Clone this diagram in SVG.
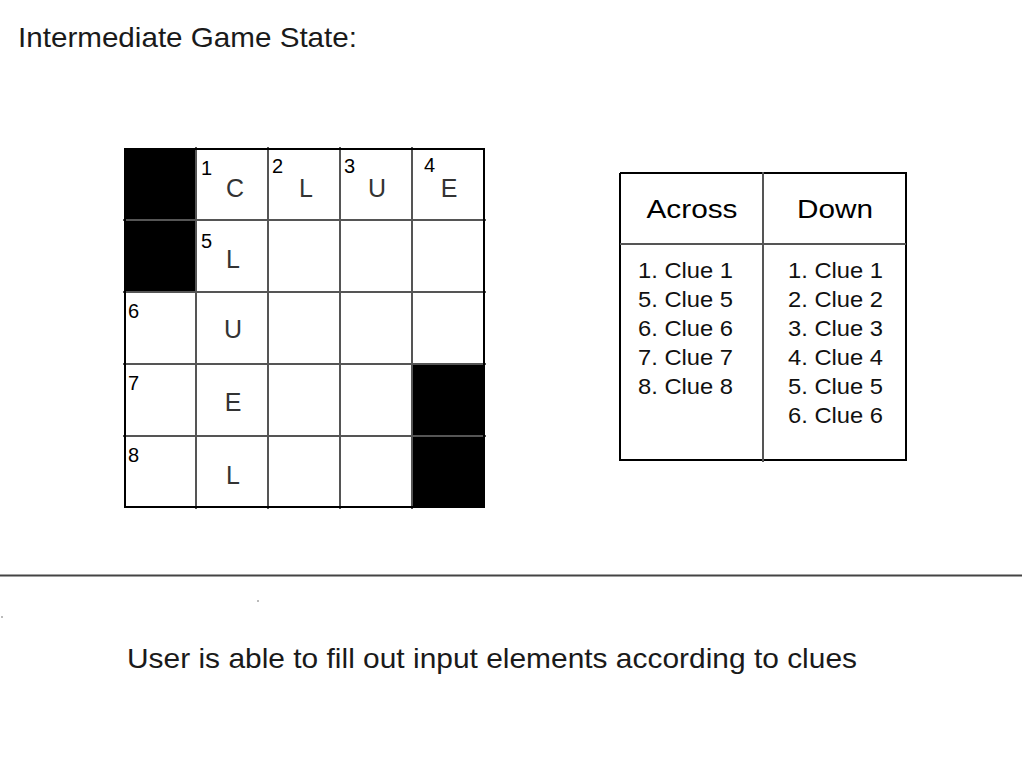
<svg xmlns="http://www.w3.org/2000/svg" width="1024" height="768" viewBox="0 0 1024 768">
<style>
text{font-family:"Liberation Sans",Arial,sans-serif;fill:#1a1a1a}
.num{font-size:20px;fill:#000}
.let{font-size:25px;fill:#333;text-anchor:middle}
.clue{font-size:22px;fill:#111}
.hdr{font-size:25px;fill:#000;text-anchor:middle}
.in{stroke:#555;stroke-width:2;fill:none}
.out{stroke:#000;stroke-width:2;fill:none}
.blk{fill:#000}
</style>
<rect width="1024" height="768" fill="#fff"/>
<text x="18" y="47" font-size="28" textLength="339" lengthAdjust="spacingAndGlyphs">Intermediate Game State:</text>

<g id="grid">
<rect class="blk" x="125" y="149" width="71" height="143"/>
<rect class="blk" x="412" y="364" width="72" height="143"/>
<path class="in" d="M196 147V509M268 147V509M340 147V509M412 147V509M123 220H486M123 292H486M123 364H486M123 436H486"/>
<rect class="out" x="125" y="149" width="359" height="358"/>
</g>

<g id="grid-text">
<text class="num" x="201" y="175">1</text>
<text class="num" x="272" y="173">2</text>
<text class="num" x="344" y="173">3</text>
<text class="num" x="424" y="172">4</text>
<text class="num" x="201" y="248">5</text>
<text class="num" x="128" y="318">6</text>
<text class="num" x="128" y="390">7</text>
<text class="num" x="128" y="462">8</text>
<text class="let" x="235" y="197">C</text>
<text class="let" x="306" y="197">L</text>
<text class="let" x="377" y="197">U</text>
<text class="let" x="449" y="197">E</text>
<text class="let" x="233" y="268">L</text>
<text class="let" x="233" y="338">U</text>
<text class="let" x="233" y="411">E</text>
<text class="let" x="233" y="484">L</text>
</g>

<g id="clues">
<path class="out" d="M620 173H906V461M620 173V461M619 460H907"/>
<path class="in" d="M763 172V462M620 244H906"/>
<text class="hdr" x="692" y="218" textLength="91" lengthAdjust="spacingAndGlyphs">Across</text>
<text class="hdr" x="835" y="218" textLength="76" lengthAdjust="spacingAndGlyphs">Down</text>
<text class="clue" x="638" y="278" textLength="95" lengthAdjust="spacingAndGlyphs">1. Clue 1</text>
<text class="clue" x="638" y="307" textLength="95" lengthAdjust="spacingAndGlyphs">5. Clue 5</text>
<text class="clue" x="638" y="336" textLength="95" lengthAdjust="spacingAndGlyphs">6. Clue 6</text>
<text class="clue" x="638" y="365" textLength="95" lengthAdjust="spacingAndGlyphs">7. Clue 7</text>
<text class="clue" x="638" y="394" textLength="95" lengthAdjust="spacingAndGlyphs">8. Clue 8</text>
<text class="clue" x="788" y="278" textLength="95" lengthAdjust="spacingAndGlyphs">1. Clue 1</text>
<text class="clue" x="788" y="307" textLength="95" lengthAdjust="spacingAndGlyphs">2. Clue 2</text>
<text class="clue" x="788" y="336" textLength="95" lengthAdjust="spacingAndGlyphs">3. Clue 3</text>
<text class="clue" x="788" y="365" textLength="95" lengthAdjust="spacingAndGlyphs">4. Clue 4</text>
<text class="clue" x="788" y="394" textLength="95" lengthAdjust="spacingAndGlyphs">5. Clue 5</text>
<text class="clue" x="788" y="423" textLength="95" lengthAdjust="spacingAndGlyphs">6. Clue 6</text>
</g>

<g id="separator">
<line x1="0" y1="575.5" x2="1022" y2="575.5" stroke="#444" stroke-width="2"/>
<rect x="257" y="600" width="2" height="2" fill="#bbb"/>
<rect x="1" y="616" width="2" height="2" fill="#bbb"/>
</g>

<text x="127" y="668" font-size="28" textLength="730" lengthAdjust="spacingAndGlyphs">User is able to fill out input elements according to clues</text>
</svg>
